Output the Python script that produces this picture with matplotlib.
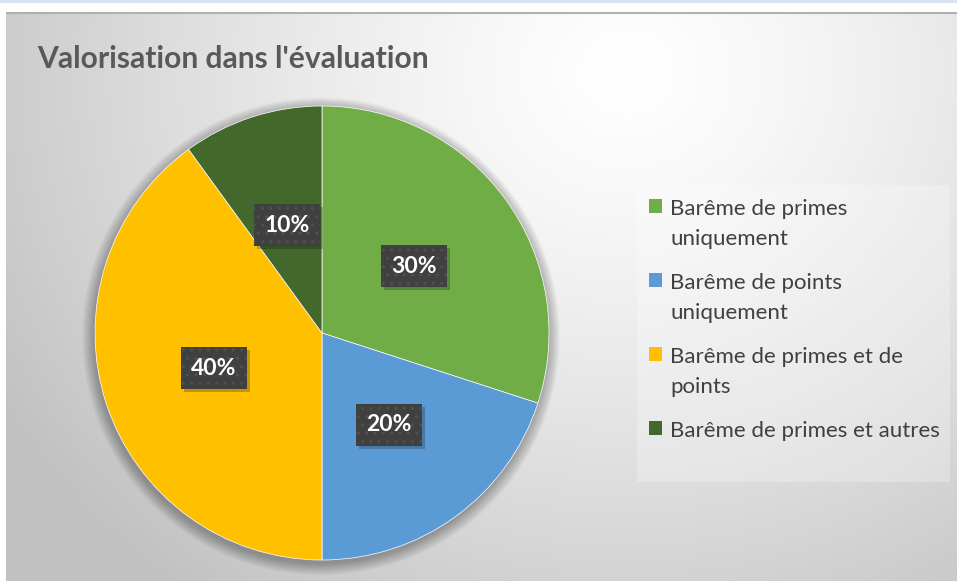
import numpy as np
import matplotlib.pyplot as plt
from matplotlib.patches import Rectangle, Circle

labels = ['Barême de primes\nuniquement', 'Barême de points\nuniquement',
          'Barême de primes et de\npoints', 'Barême de primes et autres']
values = [30, 20, 40, 10]
colors = ['#70AD47', '#5B9BD5', '#FFC000', '#43682B']

W, H = 957, 581
fig = plt.figure(figsize=(W / 100, H / 100), dpi=100)
fig.patch.set_facecolor('white')

# fond du graphique (dégradé radial)
bg = fig.add_axes([6 / W, 0, 1 - 6 / W, (H - 12) / H])
bg.set_axis_off()
yy, xx = np.mgrid[0:H - 12, 0:W - 6]
d = np.sqrt((xx - 620) ** 2 + ((yy - 60) * 1.1) ** 2) / 720
g = 1.0 - 0.24 * np.clip(d, 0, 1) ** 1.3
bg.imshow(np.dstack([g, g, g]), aspect='auto', extent=[0, 1, 0, 1], origin='upper')
bg.set_xlim(0, 1)
bg.set_ylim(0, 1)
bg.plot([0, 1], [0.999, 0.999], color='#b0b0b0', lw=1.5)
fig.add_artist(Rectangle((0, 1 - 3 / H), 1, 3 / H, transform=fig.transFigure,
                         facecolor='#dae3f3', edgecolor='none'))

# camembert
cx, cy, r = 322, 333, 227
ax = fig.add_axes([(cx - r) / W, (H - cy - r) / H, 2 * r / W, 2 * r / H])
ax.set_axis_off()
for i in range(16):
    ax.add_patch(Circle((-0.005, -0.015), 1.0 + 0.0035 * i, facecolor='black',
                        alpha=0.018, edgecolor='none', clip_on=False))

wedges, texts, autotexts = ax.pie(values, colors=colors, startangle=90, counterclock=False,
                                  autopct='%d%%', pctdistance=0.5, radius=1,
                                  wedgeprops=dict(edgecolor='white', linewidth=0.5),
                                  textprops=dict(color='white', fontsize=16.5, fontweight='bold',
                                                 family=['Lato', 'DejaVu Sans']))
ax.set_xlim(-1, 1)
ax.set_ylim(-1, 1)
ax.set_aspect('equal')
for t in autotexts:
    t.set_bbox(dict(boxstyle='square,pad=0.45', facecolor='#404040', edgecolor='#505050',
                    linewidth=0, hatch='..'))

# titre
fig.text(37 / W, 1 - 59 / H, "Valorisation dans l'évaluation", fontsize=21.6, fontweight='bold',
         color='#595959', va='center', ha='left', family=['Lato', 'DejaVu Sans'])

# légende
fig.add_artist(Rectangle((637 / W, 1 - 482 / H), (950 - 637) / W, (482 - 185) / H,
                         transform=fig.transFigure, facecolor='white', alpha=0.25,
                         edgecolor='none'))
leg = fig.legend(wedges, labels, loc='upper left', bbox_to_anchor=(629 / W, 1 - 179 / H),
                 frameon=False, labelcolor='#404040', handlelength=0.6,
                 handleheight=0.6, handletextpad=0.35, labelspacing=1.08,
                 prop=dict(family=['Lato', 'DejaVu Sans'], size=16))
for t in leg.get_texts():
    t.set_linespacing(1.62)
for h in leg.legend_handles:
    h.set_edgecolor('none')
for col in leg._legend_handle_box.get_children():
    for row in col.get_children():
        row.align = 'top'

# ombre des étiquettes
fig.canvas.draw()
for t in autotexts:
    bb = t.get_bbox_patch().get_window_extent()
    ax.add_artist(Rectangle((bb.x0 + 3, bb.y0 - 3), bb.width, bb.height, transform=None,
                            facecolor='black', alpha=0.22, edgecolor='none',
                            zorder=2, clip_on=False))

fig.savefig('out.png', dpi=100)
